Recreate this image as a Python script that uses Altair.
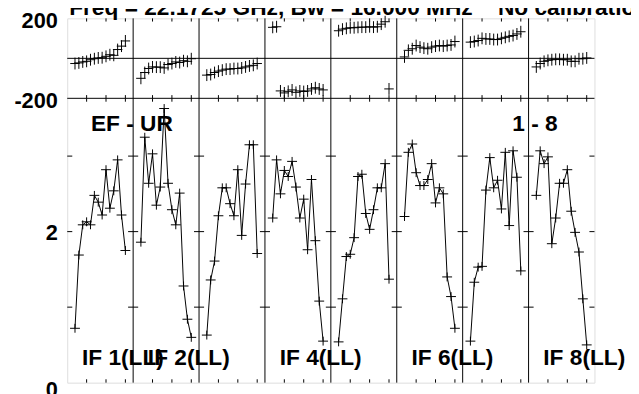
import altair as alt
import pandas as pd

# ---------------- data ----------------
channels = list(range(2, 16))          # plotted channels of each 16-channel IF
n_chan_slot = 17                       # channel slots per IF panel
if_numbers = [1, 2, 3, 4, 5, 6, 7, 8]

amp_if1 = [0.72, 1.69, 2.09, 2.13, 2.09, 2.48, 2.39, 2.22, 2.82, 2.31, 2.54, 2.95, 2.22, 1.75]
amp_if2 = [1.86, 3.25, 2.64, 3.03, 2.35, 2.59, 3.63, 2.64, 2.29, 2.09, 2.51, 1.28, 0.84, 0.60]
amp_if3 = [0.63, 1.36, 1.61, 2.21, 2.58, 2.58, 2.37, 2.21, 2.82, 1.95, 2.63, 3.15, 3.15, 1.71]
amp_if4 = [2.18, 2.95, 2.50, 2.81, 2.73, 2.93, 2.59, 2.18, 2.43, 1.76, 2.69, 1.88, 1.08, 0.55]
amp_if5 = [0.54, 1.11, 1.67, 1.70, 1.92, 2.73, 2.76, 2.24, 2.03, 2.29, 2.58, 2.58, 2.90, 1.37]
amp_if6 = [2.20, 3.05, 3.16, 2.78, 2.61, 2.61, 2.69, 2.90, 2.38, 2.58, 2.50, 1.40, 1.14, 0.72]
amp_if7 = [0.55, 1.33, 1.53, 1.54, 2.55, 2.98, 2.58, 2.68, 2.30, 3.05, 2.08, 3.07, 2.72, 1.48]
amp_if8 = [2.48, 3.07, 2.90, 2.99, 1.84, 2.18, 2.64, 2.64, 2.82, 2.27, 1.99, 1.73, 1.11, 0.50]

phase_if1 = [-26, -23, -18, -15, -7, -2, 2, 3, 10, 18, 15, 44, 61, 87]
phase_if2 = [-100, -71, -51, -43, -44, -44, -48, -31, -26, -18, -21, -12, -15, -2]
phase_if3 = [-84, -81, -71, -64, -59, -54, -54, -51, -51, -48, -43, -38, -35, -26]
phase_if4 = [155, 158, -163, -173, -165, -158, -170, -163, -166, -163, -153, -147, -153, -158]
phase_if5 = [138, 146, 150, 153, 153, 155, 156, 156, 158, 156, 158, 171, 183, -153]
phase_if6 = [7, 40, 48, 64, 56, 51, 48, 56, 61, 64, 61, 64, 67, 84]
phase_if7 = [81, 84, 89, 100, 97, 97, 94, 94, 100, 105, 110, 114, 122, 133]
phase_if8 = [-43, -26, -15, -10, -7, -5, -5, -7, -7, -15, -15, -2, -2, 2]

labelled_ifs = [1, 2, 4, 6, 8]
pol = "LL"
baseline_label = "EF - UR"
if_range_label = "1 - 8"
title_text = "Freq = 22.1725 GHz, Bw = 16.000 MHz\u00a0\u00a0\u00a0\u00a0No calibration applied"

phase_ticks = [200, -200]
amp_label_ticks = [0, 2]
amp_minor_ticks = [1, 2, 3]
x_tick_channels = [5, 10, 15]

# ---------------- tables ----------------
amps = [amp_if1, amp_if2, amp_if3, amp_if4, amp_if5, amp_if6, amp_if7, amp_if8]
phases = [phase_if1, phase_if2, phase_if3, phase_if4, phase_if5, phase_if6, phase_if7, phase_if8]

rows = []
for k, ifn in enumerate(if_numbers):
    for j, c in enumerate(channels):
        rows.append({"IF": ifn, "pos": k * n_chan_slot + c, "amp": amps[k][j], "phase": phases[k][j]})
df = pd.DataFrame(rows)

x_max = n_chan_slot * len(if_numbers)
amp_top = 3.765

xscale = alt.Scale(domain=[0, x_max], nice=False, zero=False)
phase_scale = alt.Scale(domain=[-200, 200], range=[81, 0], nice=False, zero=False)
amp_scale = alt.Scale(domain=[0, amp_top], range=[369, 81], nice=False, zero=False)

FONT = "Liberation Sans"

def axis_left(values, offset):
    return alt.Axis(orient="left", values=values, ticks=False, tickSize=0, domain=False,
                    grid=False, title=None, labelPadding=10, labelFont=FONT,
                    labelFontSize=22, labelFontWeight="bold", labelColor="black",
                    labelOverlap=False, labelExpr="'' + datum.value",
                    labelOffset=offset)

cross_top = "M-0.8,0H0.8M0,-1V1"
cross_bot = "M-1,0H1M0,-0.9V0.9"

base = alt.Chart(df)

phase_pts = base.mark_point(shape=cross_top, size=144, filled=False, color="black",
                            strokeWidth=1, opacity=1).encode(
    x=alt.X("pos:Q", scale=xscale, axis=None),
    y=alt.Y("phase:Q", scale=phase_scale, axis=axis_left(phase_ticks, 2)),
)

amp_line = base.mark_line(color="black", strokeWidth=1).encode(
    x=alt.X("pos:Q", scale=xscale, axis=None),
    y=alt.Y("amp:Q", scale=amp_scale,
            axis=axis_left(amp_label_ticks,
                           {"condition": {"test": "datum.value === 0", "value": 7}, "value": 1})),
    detail="IF:N",
)
amp_pts = base.mark_point(shape=cross_bot, size=100, filled=False, color="black",
                          strokeWidth=1, opacity=1).encode(
    x=alt.X("pos:Q", scale=xscale, axis=None),
    y=alt.Y("amp:Q", scale=amp_scale, axis=None),
)

# panel dividers and horizontal reference lines
dividers = alt.Chart(pd.DataFrame({"b": [n_chan_slot * k for k in range(1, len(if_numbers))]})
                     ).mark_rule(color="black", strokeWidth=1).encode(
    x=alt.X("b:Q", scale=xscale, axis=None))
hlines = alt.Chart(pd.DataFrame({"v": [0, -200]})).mark_rule(color="black", strokeWidth=1).encode(
    y=alt.Y("v:Q", scale=phase_scale, axis=None))

# x ticks (inward) on both panels
xt_pos = [k * n_chan_slot + c for k in range(len(if_numbers)) for c in x_tick_channels]
ph_ticks = pd.DataFrame(
    [{"x": p, "y1": 200, "y2": 184} for p in xt_pos] + [{"x": p, "y1": -200, "y2": -184} for p in xt_pos])
ph_tick_layer = alt.Chart(ph_ticks).mark_rule(color="black", strokeWidth=1).encode(
    x=alt.X("x:Q", scale=xscale, axis=None),
    y=alt.Y("y1:Q", scale=phase_scale, axis=None), y2="y2:Q")
am_ticks = pd.DataFrame(
    [{"x": p, "y1": 0, "y2": 0.045} for p in xt_pos] + [{"x": p, "y1": amp_top, "y2": amp_top - 0.045} for p in xt_pos])
am_tick_layer = alt.Chart(am_ticks).mark_rule(color="black", strokeWidth=1).encode(
    x=alt.X("x:Q", scale=xscale, axis=None),
    y=alt.Y("y1:Q", scale=amp_scale, axis=None), y2="y2:Q")

# y ticks on panel borders in the amplitude panel
yt = []
for k in range(len(if_numbers) + 1):
    b = k * n_chan_slot
    for v in amp_minor_ticks:
        yt.append({"x1": max(0, b - 1.3), "x2": min(x_max, b + 1.3), "y": v})
yt_layer = alt.Chart(pd.DataFrame(yt)).mark_rule(color="black", strokeWidth=1).encode(
    x=alt.X("x1:Q", scale=xscale, axis=None), x2="x2:Q",
    y=alt.Y("y:Q", scale=amp_scale, axis=None))

# annotations
txt_style = dict(font=FONT, fontSize=23, fontWeight="bold", color="black", align="left", baseline="middle")
labels_df = pd.DataFrame(
    [{"x": (i - 1) * n_chan_slot + 3.8, "y": 0.33, "t": f"IF {i}({pol})"} for i in labelled_ifs]
    + [{"x": 6.1, "y": 3.42, "t": baseline_label}, {"x": 114.8, "y": 3.42, "t": if_range_label}])
labels = alt.Chart(labels_df).mark_text(**txt_style).encode(
    x=alt.X("x:Q", scale=xscale, axis=None),
    y=alt.Y("y:Q", scale=amp_scale, axis=None), text="t:N")

title = alt.Chart(pd.DataFrame({"x": [0.5], "t": [title_text]})).mark_text(
    font=FONT, fontSize=23, fontWeight="bold", color="black", align="left", baseline="alphabetic"
).encode(x=alt.X("x:Q", scale=xscale, axis=None), y=alt.value(-3), text="t:N")

chart = alt.layer(
    dividers, hlines, ph_tick_layer, am_tick_layer, yt_layer,
    phase_pts, amp_line, amp_pts, labels, title
).resolve_scale(y="independent").properties(
    width=534, height=369,
    autosize=alt.AutoSizeParams(type="none"),
    padding={"left": 60, "top": 8, "right": 37, "bottom": 9},
).configure_view(stroke="black", strokeWidth=1).configure(background="white")

chart.save("out.html", embed_options={"renderer": "svg", "actions": False})
